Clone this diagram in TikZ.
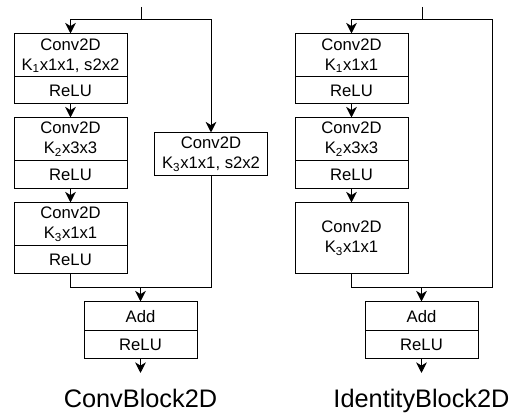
\documentclass[tikz,border=0pt]{standalone}
\usepackage{fontspec}
\setmainfont{Liberation Sans}
\usetikzlibrary{arrows.meta,positioning}

\tikzset{
	blk/.style={draw,minimum width=84.75pt,inner sep=0pt,align=center,font=\fontsize{12.5}{15}\selectfont},
	conv/.style={blk,minimum height=32.25pt},
	relu/.style={blk,minimum height=21pt},
	arr/.style={-{Stealth[length=8pt,width=8pt,inset=2.5pt]}},
	caption/.style={anchor=base,font=\fontsize{19}{23}\selectfont}
}

\begin{document}
\begin{tikzpicture}[x=0.75pt,y=-0.75pt,line width=0.75pt]
		\useasboundingbox (0,0) rectangle (512,413);
		% ConvBlock2D
		\coordinate (inL) at (141,7);
		\coordinate (jL) at (141,20);
		\node[conv] (cva) at (70.5,55.5) {Conv2D\\K\textsubscript{1}x1x1, s2x2};
		\node[blk,minimum height=20.25pt] (rla) at (70.5,90.5) {ReLU};
		\node[conv] (cvb) at (70.5,139.5) {Conv2D\\K\textsubscript{2}x3x3};
		\node[relu] (rlb) at (70.5,175) {ReLU};
		\node[conv] (cvc) at (70.5,224.5) {Conv2D\\K\textsubscript{3}x1x1};
		\node[relu] (rlc) at (70.5,260) {ReLU};
		\node[conv] (side) at (211,154.5) {Conv2D\\K\textsubscript{3}x1x1, s2x2};
		\coordinate (mL) at (140.5,288);
		\node[blk,minimum height=21.75pt] (addL) at (140.5,316.5) {Add};
		\node[relu] (rlL) at (140.5,345) {ReLU};
		\coordinate (outL) at (140.5,373);
		\node[caption] (capL) at (140.5,408) {ConvBlock2D};
		\draw (inL) -- (jL);
		\draw[arr] (jL) -| (cva);
		\draw[arr] (jL) -| (side);
		\draw[arr] (rla) -- (cvb);
		\draw[arr] (rlb) -- (cvc);
		\draw (rlc) |- (mL);
		\draw (side) |- (mL);
		\draw[arr] (mL) -- (addL);
		\draw[arr] (rlL) -- (outL);
		% IdentityBlock2D
		\coordinate (inR) at (422,7);
		\coordinate (jR) at (422,20);
		\node[conv] (ida) at (351.5,55.5) {Conv2D\\K\textsubscript{1}x1x1};
		\node[blk,minimum height=20.25pt] (ira) at (351.5,90.5) {ReLU};
		\node[conv] (idb) at (351.5,139.5) {Conv2D\\K\textsubscript{2}x3x3};
		\node[relu] (irb) at (351.5,175) {ReLU};
		\node[blk,minimum height=53.25pt] (idc) at (351.5,238.5) {Conv2D\\K\textsubscript{3}x1x1};
		\coordinate (cR) at (492,288);
		\coordinate (mR) at (421.5,288);
		\node[blk,minimum height=21.75pt] (addR) at (421.5,316.5) {Add};
		\node[relu] (rlR) at (421.5,345) {ReLU};
		\coordinate (outR) at (421.5,373);
		\node[caption] (capR) at (421.5,408) {IdentityBlock2D};
		\draw (inR) -- (jR);
		\draw[arr] (jR) -| (ida);
		\draw (jR) -| (cR) -- (mR);
		\draw[arr] (ira) -- (idb);
		\draw[arr] (irb) -- (idc);
		\draw (idc) |- (mR);
		\draw[arr] (mR) -- (addR);
		\draw[arr] (rlR) -- (outR);
	\end{tikzpicture}
\end{document}
